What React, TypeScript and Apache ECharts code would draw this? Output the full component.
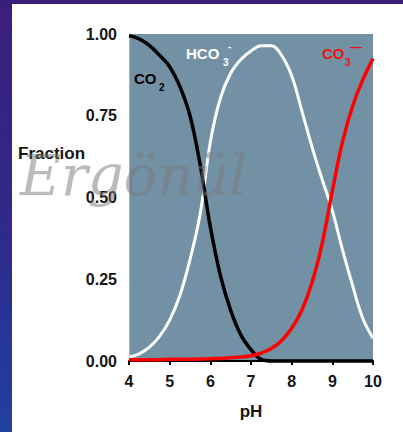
import React, { useEffect, useRef } from "react";
import * as echarts from "echarts";

// pH grid (x values)
const pH = [4, 4.25, 4.5, 4.75, 5, 5.25, 5.5, 5.75, 6, 6.25, 6.5, 6.75, 7, 7.25, 7.5, 7.75, 8, 8.25, 8.5, 8.75, 9, 9.25, 9.5, 9.75, 10];
// fractions
const co2 = [0.995, 0.985, 0.965, 0.935, 0.9, 0.84, 0.75, 0.6, 0.41, 0.26, 0.155, 0.08, 0.035, 0.005, 0, 0, 0, 0, 0, 0, 0, 0, 0, 0, 0];
const hco3 = [0.012, 0.022, 0.042, 0.075, 0.125, 0.2, 0.31, 0.45, 0.67, 0.805, 0.88, 0.922, 0.948, 0.964, 0.964, 0.935, 0.872, 0.765, 0.655, 0.555, 0.46, 0.34, 0.23, 0.13, 0.07];
const co3 = [0.004, 0.004, 0.004, 0.004, 0.005, 0.005, 0.005, 0.006, 0.007, 0.008, 0.01, 0.012, 0.016, 0.024, 0.038, 0.062, 0.1, 0.155, 0.24, 0.36, 0.52, 0.67, 0.78, 0.86, 0.925];

const pairs = (ys: number[]) => pH.map((x, i) => [x, ys[i]]);

const FONT = "Liberation Sans, Arial, sans-serif";

export default function App() {
  const ref = useRef<HTMLDivElement>(null);
  useEffect(() => {
    if (!ref.current) return;
    const chart = echarts.init(ref.current, null, { renderer: "svg" });
    const lineSeries = (name: string, ys: number[], color: string, width: number) => ({
      name,
      type: "line",
      data: pairs(ys),
      smooth: 0.4,
      showSymbol: false,
      clip: false,
      lineStyle: { color, width },
      itemStyle: { color },
    });
    chart.setOption({
      animation: false,
      backgroundColor: "transparent",
      grid: {
        left: 129,
        right: 30,
        top: 34,
        bottom: 71,
        show: true,
        backgroundColor: "#7391a4",
        borderWidth: 0,
      },
      xAxis: {
        type: "value",
        min: 4,
        max: 10,
        interval: 1,
        axisLine: { show: true, lineStyle: { color: "#000", width: 2 } },
        axisTick: { show: true, length: 4, lineStyle: { color: "#000", width: 2 } },
        splitLine: { show: false },
        axisLabel: { color: "#151515", fontSize: 16, fontWeight: "bold", fontFamily: FONT, margin: 12 },
      },
      yAxis: {
        type: "value",
        min: 0,
        max: 1,
        interval: 0.25,
        axisLine: { show: true, lineStyle: { color: "#a9bac6", width: 1, type: "dotted" } },
        axisTick: { show: false },
        splitLine: { show: false },
        axisLabel: {
          color: "#151515",
          fontSize: 16,
          fontWeight: "bold",
          fontFamily: FONT,
          margin: 12,
          formatter: (v: number) => v.toFixed(2),
        },
      },
      series: [
        lineSeries("HCO3-", hco3, "#ffffff", 3),
        lineSeries("CO2", co2, "#000000", 3.5),
        lineSeries("CO3--", co3, "#ff0000", 3.5),
      ],
      graphic: [
        { type: "text", z: 10, style: { text: "Fraction", x: 18, y: 153, fill: "#151515", fontSize: 17, fontWeight: "bold", fontFamily: FONT, align: "left", verticalAlign: "middle" } },
        { type: "text", z: 10, style: { text: "pH", x: 251, y: 411, fill: "#151515", fontSize: 17, fontWeight: "bold", fontFamily: FONT, align: "center", verticalAlign: "middle" } },
        // CO2 label
        { type: "text", z: 10, style: { text: "CO", x: 134, y: 78, fill: "#000", fontSize: 15, fontWeight: "bold", fontFamily: FONT, align: "left", verticalAlign: "middle" } },
        { type: "text", z: 10, style: { text: "2", x: 159, y: 87, fill: "#000", fontSize: 10, fontWeight: "bold", fontFamily: FONT, align: "left", verticalAlign: "middle" } },
        // HCO3- label
        { type: "text", z: 10, style: { text: "HCO", x: 186, y: 53, fill: "#ffffff", fontSize: 15, fontWeight: "bold", fontFamily: FONT, align: "left", verticalAlign: "middle" } },
        { type: "text", z: 10, style: { text: "3", x: 223, y: 62, fill: "#ffffff", fontSize: 10, fontWeight: "bold", fontFamily: FONT, align: "left", verticalAlign: "middle" } },
        { type: "text", z: 10, style: { text: "-", x: 228, y: 46, fill: "#ffffff", fontSize: 10, fontWeight: "bold", fontFamily: FONT, align: "left", verticalAlign: "middle" } },
        // CO3-- label
        { type: "text", z: 10, style: { text: "CO", x: 322, y: 53, fill: "#ee1111", fontSize: 15, fontWeight: "bold", fontFamily: FONT, align: "left", verticalAlign: "middle" } },
        { type: "text", z: 10, style: { text: "3", x: 345, y: 62, fill: "#ee1111", fontSize: 10, fontWeight: "bold", fontFamily: FONT, align: "left", verticalAlign: "middle" } },
        { type: "text", z: 10, style: { text: "\u2014", x: 350, y: 47, fill: "#ee1111", fontSize: 12, fontWeight: "bold", fontFamily: FONT, align: "left", verticalAlign: "middle" } },
        // watermark
        { type: "text", z: 20, style: { text: "Ergönül", x: 20, y: 147, fill: "rgba(120,120,120,0.5)", fontSize: 56, fontStyle: "italic", fontWeight: 200, fontFamily: "DejaVu Serif, Liberation Serif, serif", align: "left", verticalAlign: "alphabetic" } },
      ],
    });
    return () => chart.dispose();
  }, []);
  return (
    <div
      style={{
        position: "fixed",
        left: 0,
        top: 0,
        width: 403,
        height: 432,
        background: "linear-gradient(to bottom, #3b1e7a 0%, #2e2a8c 55%, #2040a2 100%)",
        overflow: "hidden",
      }}
    >
      <div style={{ position: "absolute", left: 12, top: 4, right: 0, bottom: 0, background: "#ffffff" }} />
      <div ref={ref} style={{ position: "absolute", left: 0, top: 0, width: 403, height: 432 }} />
    </div>
  );
}
